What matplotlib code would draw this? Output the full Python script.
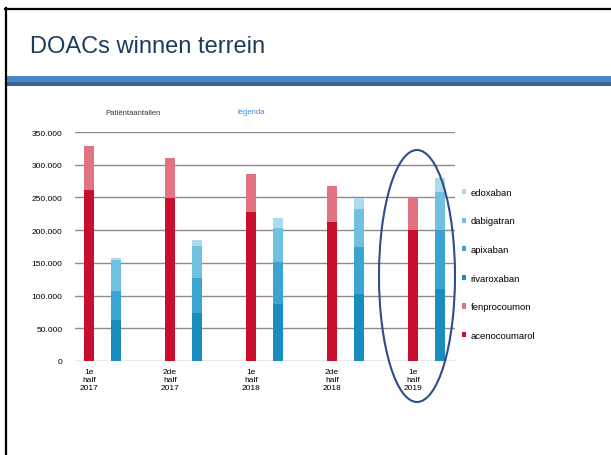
import numpy as np
import matplotlib
matplotlib.use('Agg')
import matplotlib.pyplot as plt
from matplotlib.patches import Rectangle, Ellipse
from matplotlib.ticker import FuncFormatter

plt.rcParams['font.family'] = ['Liberation Sans', 'DejaVu Sans']

# data (patients per half year)
categories = ['1e\nhalf\n2017', '2de\nhalf\n2017', '1e\nhalf\n2018',
              '2de\nhalf\n2018', '1e\nhalf\n2019']
acenocoumarol = [262000, 249000, 227000, 213000, 200000]
fenprocoumon = [66000, 61000, 59000, 55000, 50000]
rivaroxaban = [63000, 74000, 87000, 102000, 110000]
apixaban = [44000, 53000, 64000, 72000, 90000]
dabigatran = [48000, 49000, 53000, 59000, 58000]
edoxaban = [2000, 9000, 15000, 16000, 22000]

c_aceno = '#c8102e'
c_fenpro = '#e27383'
c_riva = '#1a8dbf'
c_apix = '#3ba4d2'
c_dabi = '#70c0df'
c_edox = '#acdcec'

W, H = 611, 456
fig = plt.figure(figsize=(W / 100., H / 100.), dpi=100)

# slide frame
fig.add_artist(plt.Line2D([5.5 / W, 5.5 / W], [0, 1 - 9. / H], color='k', lw=1.6))
fig.add_artist(plt.Line2D([5. / W, 1], [1 - 10. / H, 1 - 10. / H], color='k', lw=1.6))
fig.add_artist(Rectangle((6. / W, 1 - 83. / H), 1, 6. / H, color='#4a86c8', lw=0))
fig.add_artist(Rectangle((6. / W, 1 - 87. / H), 1, 4. / H, color='#3b6496', lw=0))
fig.text(30. / W, 1 - 53. / H, 'DOACs winnen terrein', fontsize=17,
         color='#1f3a5f', va='baseline', ha='left')

ax = fig.add_axes([75. / W, 1 - 362. / H, 380. / W, 229. / H])

x = np.arange(len(categories))
w = 0.125
xb = x + 0.333

ax.bar(x, acenocoumarol, w, color=c_aceno, label='acenocoumarol', zorder=3)
ax.bar(x, fenprocoumon, w, bottom=acenocoumarol, color=c_fenpro,
       label='fenprocoumon', zorder=3)

b1 = np.array(rivaroxaban)
b2 = b1 + np.array(apixaban)
b3 = b2 + np.array(dabigatran)
ax.bar(xb, rivaroxaban, w, color=c_riva, label='rivaroxaban', zorder=3)
ax.bar(xb, apixaban, w, bottom=b1, color=c_apix, label='apixaban', zorder=3)
ax.bar(xb, dabigatran, w, bottom=b2, color=c_dabi, label='dabigatran', zorder=3)
ax.bar(xb, edoxaban, w, bottom=b3, color=c_edox, label='edoxaban', zorder=3)

ax.set_ylim(0, 350000)
ax.set_xlim(-0.173, 4.52)
ax.set_yticks(np.arange(0, 350001, 50000))
ax.yaxis.set_major_formatter(FuncFormatter(
    lambda v, p: '0' if v == 0 else '{:,.0f}'.format(v).replace(',', '.')))
ax.set_xticks(x)
ax.set_xticklabels(categories, fontsize=6, linespacing=1.25)
ax.tick_params(axis='y', length=0, pad=9, labelsize=6)
ax.tick_params(axis='x', length=0, pad=5)
ax.yaxis.grid(True, color='#8c8c8c', lw=1)
for s in ax.spines.values():
    s.set_visible(False)

handles, labels = ax.get_legend_handles_labels()
order = [5, 4, 3, 2, 1, 0]
ax.legend([handles[i] for i in order], [labels[i] for i in order],
          loc='upper left', bbox_to_anchor=(458. / W, 1 - 185. / H),
          bbox_transform=fig.transFigure, frameon=False, fontsize=6.8,
          handlelength=0.45, handleheight=0.45, handletextpad=0.5,
          labelspacing=2.08, borderaxespad=0)

# small header texts above the plot
fig.text(105. / W, 1 - 115. / H, 'Patiëntaantallen', fontsize=5.5, color='#333333')
fig.text(238. / W, 1 - 114. / H, 'legenda', fontsize=5.5, color='#3a8fd8')

# highlight the latest half year
fig.add_artist(Ellipse((417. / W, 1 - 277. / H), 76. / W, 252. / H,
                       fill=False, ec='#2e4d8a', lw=1.5))

fig.savefig('out.png', dpi=100)
